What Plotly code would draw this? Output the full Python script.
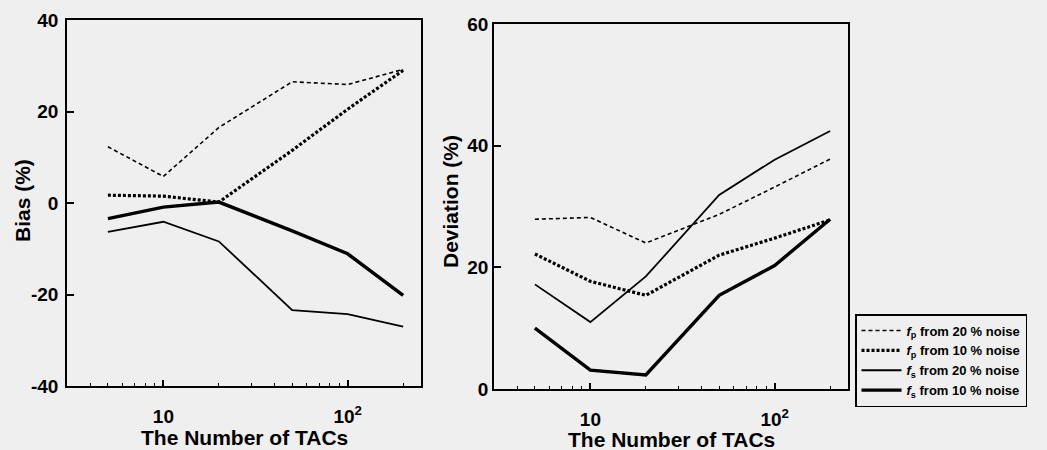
import plotly.graph_objects as go

# ---- data ----
n_tacs = [5, 10, 20, 50, 100, 200]

bias_fp_20 = [12.3, 5.8, 16.5, 26.5, 25.9, 29.2]
bias_fp_10 = [1.7, 1.5, 0.2, 11.5, 20.5, 29.0]
bias_fs_20 = [-6.3, -4.1, -8.4, -23.4, -24.3, -27.0]
bias_fs_10 = [-3.4, -0.9, 0.2, -6.1, -11.1, -20.2]

dev_fp_20 = [27.9, 28.2, 24.0, 28.7, 33.2, 37.8]
dev_fp_10 = [22.2, 17.7, 15.4, 22.0, 24.8, 27.8]
dev_fs_20 = [17.2, 11.0, 18.5, 31.9, 37.7, 42.4]
dev_fs_10 = [10.0, 3.1, 2.3, 15.4, 20.3, 27.9]

series_names = [
    "<b><i>f</i><sub>p</sub> from 20 % noise</b>",
    "<b><i>f</i><sub>p</sub> from 10 % noise</b>",
    "<b><i>f</i><sub>s</sub> from 20 % noise</b>",
    "<b><i>f</i><sub>s</sub> from 10 % noise</b>",
]
x_tick_vals = [10, 100]
x_tick_text = ["10", "10<sup>2</sup>"]
x_minor_vals = [4, 5, 6, 7, 8, 9, 20, 30, 40, 50, 60, 70, 80, 90, 200]
bias_ticks = [-40, -20, 0, 20, 40]
bias_tick_text = ["-40", "-20", "0", "20", "40"]
dev_ticks = [0, 20, 40, 60]
dev_tick_text = ["0", "20", "40", "60"]

styles = [
    dict(color="black", width=1.6, dash="4px,3px"),
    dict(color="black", width=3.2, dash="3px,2px"),
    dict(color="black", width=1.8, dash="solid"),
    dict(color="black", width=3.4, dash="solid"),
]

FONT = "Liberation Sans, Arial, sans-serif"
BG = "#efefef"

fig = go.Figure()

bias_sets = [bias_fp_20, bias_fp_10, bias_fs_20, bias_fs_10]
dev_sets = [dev_fp_20, dev_fp_10, dev_fs_20, dev_fs_10]

for i, (name, st) in enumerate(zip(series_names, styles)):
    fig.add_trace(go.Scatter(x=n_tacs, y=bias_sets[i], mode="lines", name=name,
                             line=st, legendgroup=str(i), showlegend=True,
                             xaxis="x", yaxis="y"))
for i, (name, st) in enumerate(zip(series_names, styles)):
    fig.add_trace(go.Scatter(x=n_tacs, y=dev_sets[i], mode="lines", name=name,
                             line=st, legendgroup=str(i), showlegend=False,
                             xaxis="x2", yaxis="y2"))

W, H = 1047, 450
L1, R1, T1, B1 = 67, 421, 20, 386
L2, R2, T2, B2 = 494, 848, 24, 389

xcommon = dict(
    type="log", range=[0.477, 2.398], showline=True, linewidth=1.5, linecolor="black",
    mirror=True, ticks="inside", ticklen=6, tickwidth=1.5, tickcolor="black",
    tickmode="array", tickvals=x_tick_vals, ticktext=x_tick_text,
    tickfont=dict(family=FONT, size=19, color="black", weight="bold"),
    ticklabelstandoff=12,
    minor=dict(ticks="inside", ticklen=3, tickwidth=1, tickcolor="black", showgrid=False,
               tickmode="array", tickvals=x_minor_vals),
    showgrid=False, zeroline=False, automargin=False,
)
ycommon = dict(
    showline=True, linewidth=1.5, linecolor="black", mirror=True,
    ticks="inside", ticklen=7, tickwidth=1.5, tickcolor="black", tickmode="array",
    tickfont=dict(family=FONT, size=19, color="black", weight="bold"),
    showgrid=False, zeroline=False, automargin=False,
)

fig.update_layout(
    width=W, height=H,
    margin=dict(l=0, r=0, t=0, b=0),
    paper_bgcolor=BG, plot_bgcolor=BG,
    font=dict(family=FONT, color="black"),
    xaxis=dict(domain=[L1 / W, R1 / W], anchor="y", **xcommon),
    xaxis2=dict(domain=[L2 / W, R2 / W], anchor="y2", **xcommon),
    yaxis=dict(domain=[1 - B1 / H, 1 - T1 / H], anchor="x", range=[-40, 40],
               tickvals=bias_ticks, ticktext=bias_tick_text, ticklabelstandoff=3, **ycommon),
    yaxis2=dict(domain=[1 - B2 / H, 1 - T2 / H], anchor="x2", range=[0, 60],
                tickvals=dev_ticks, ticktext=dev_tick_text, ticklabelstandoff=0, **ycommon),
    showlegend=True,
    legend=dict(x=855 / W, y=1 - 314 / H, xanchor="left", yanchor="top",
                bordercolor="black", borderwidth=1.5, bgcolor=BG,
                font=dict(family=FONT, size=13, color="black"),
                tracegroupgap=0, itemwidth=40),
)

title_font = dict(family=FONT, size=21, color="black")
fig.add_annotation(text="<b>The Number of TACs</b>", xref="paper", yref="paper",
                   x=(L1 + R1) / 2 / W, y=1 - 437 / H, xanchor="center", yanchor="middle",
                   showarrow=False, font=title_font)
fig.add_annotation(text="<b>The Number of TACs</b>", xref="paper", yref="paper",
                   x=(L2 + R2) / 2 / W, y=1 - 439 / H, xanchor="center", yanchor="middle",
                   showarrow=False, font=title_font)
fig.add_annotation(text="<b>Bias (%)</b>", xref="paper", yref="paper",
                   x=22 / W, y=1 - 201 / H, xanchor="center", yanchor="middle",
                   textangle=-90, showarrow=False, font=title_font)
fig.add_annotation(text="<b>Deviation (%)</b>", xref="paper", yref="paper",
                   x=450 / W, y=1 - 202 / H, xanchor="center", yanchor="middle",
                   textangle=-90, showarrow=False, font=title_font)

fig.write_html("out.html")
